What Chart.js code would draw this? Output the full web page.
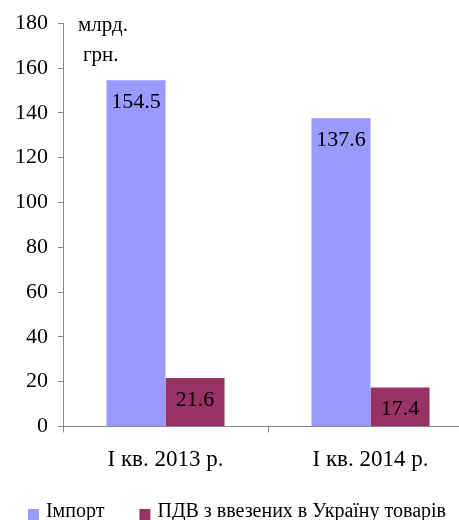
<!DOCTYPE html>
<html>
<head>
<meta charset="utf-8">
<script src="https://cdn.jsdelivr.net/npm/chart.js@4"></script>
<style>
  html, body { margin: 0; padding: 0; background: #fff; overflow: hidden; }
  #wrap { width: 480px; height: 520px; }
</style>
</head>
<body>
<div id="wrap"><canvas id="myChart" width="480" height="520"></canvas></div>
<script>
const categories = ['І кв. 2013 р.', 'І кв. 2014 р.']
const importValues = [154.5, 137.6]
const vatValues = [21.6, 17.4]
const yTicks = [0, 20, 40, 60, 80, 100, 120, 140, 160, 180]
const unitLines = ['млрд.', 'грн.']

const ctx = document.getElementById('myChart')
const serif = "'Liberation Serif', 'Times New Roman', serif"

Chart.defaults.font.family = serif
Chart.defaults.color = '#000000'

// value labels drawn inside the top of each bar
const barLabels = {
    id: 'barLabels',
    afterDatasetsDraw(chart) {
        const c = chart.ctx
        c.save()
        c.font = '22px ' + serif
        c.fillStyle = '#000'
        c.textAlign = 'center'
        c.textBaseline = 'middle'
        chart.data.datasets.forEach((ds, i) => {
            chart.getDatasetMeta(i).data.forEach((bar, j) => {
                c.fillText(ds.data[j].toFixed(1), bar.x, bar.y + 22)
            })
        })
        c.restore()
    }
}

// unit caption next to the top of the y axis
const unitCaption = {
    id: 'unitCaption',
    afterDraw(chart) {
        const c = chart.ctx
        const left = chart.chartArea.left
        c.save()
        c.font = '21px ' + serif
        c.fillStyle = '#000'
        c.textBaseline = 'middle'
        c.fillText(unitLines[0], left + 15, 25)
        c.fillText(unitLines[1], left + 20, 55)
        c.restore()
    }
}

// legend in one row at the very bottom, like the original
const bottomLegend = {
    id: 'bottomLegend',
    afterDraw(chart) {
        const c = chart.ctx
        const box = 11, gap = 7, between = 35
        c.save()
        c.font = '20px ' + serif
        c.textBaseline = 'middle'
        const items = chart.data.datasets.map(ds => ({
            text: ds.label,
            color: ds.backgroundColor,
            w: c.measureText(ds.label).width
        }))
        let total = 0
        items.forEach((it, i) => {
            total += box + gap + it.w + (i > 0 ? between : 0)
        })
        let x = 237 - total / 2
        const y = 512
        items.forEach(it => {
            c.fillStyle = it.color
            c.fillRect(x, y - 3, box, box)
            c.fillStyle = '#000'
            c.fillText(it.text, x + box + gap, y)
            x += box + gap + it.w + between
        })
        c.restore()
    }
}

const chart = new Chart(ctx, {
    type: 'bar',
    data: {
        labels: categories,
        datasets: [{
            label: 'Імпорт',
            data: importValues,
            backgroundColor: '#9999FF',
            categoryPercentage: 0.576,
            barPercentage: 1.0
        },
        {
            label: 'ПДВ з ввезених в Україну товарів',
            data: vatValues,
            backgroundColor: '#993366',
            categoryPercentage: 0.576,
            barPercentage: 1.0
        }]
    },
    options: {
        responsive: false,
        animation: false,
        layout: {
            padding: { top: 22, right: 7, left: 0, bottom: 32 }
        },
        plugins: {
            tooltip: { enabled: false },
            legend: { display: false }
        },
        scales: {
            x: {
                grid: {
                    drawOnChartArea: false,
                    tickLength: 6,
                    color: '#868686'
                },
                border: { color: '#868686' },
                ticks: {
                    font: { size: 23, family: serif },
                    padding: 14,
                    autoSkip: false,
                    maxRotation: 0
                }
            },
            y: {
                min: 0,
                max: 180,
                afterBuildTicks(axis) {
                    axis.ticks = yTicks.map(v => ({ value: v }))
                },
                afterFit(axis) {
                    axis.width = 63
                },
                grid: {
                    drawOnChartArea: false,
                    tickLength: 5,
                    color: '#868686'
                },
                border: { color: '#868686' },
                ticks: {
                    font: { size: 22, family: serif },
                    padding: 10
                }
            }
        }
    },
    plugins: [barLabels, unitCaption, bottomLegend]
});
</script>
</body>
</html>
